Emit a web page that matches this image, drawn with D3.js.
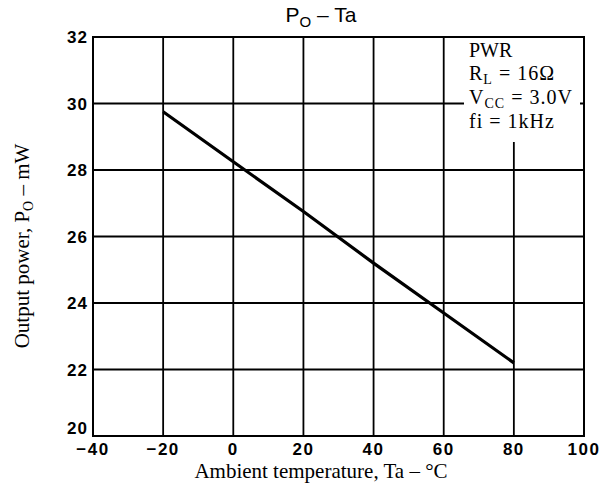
<!DOCTYPE html>
<html>
<head>
<meta charset="utf-8">
<script src="https://cdn.jsdelivr.net/npm/d3@7"></script>
<style>
  html, body { margin: 0; padding: 0; background: #fff; }
  svg { display: block; }
</style>
</head>
<body>
<svg id="chart" width="606" height="488"></svg>
<script>
// ---- data ----
const temperature = [-20, 0, 20, 40, 60, 80];          // Ta (°C)
const outputPower = [29.75, 28.25, 26.75, 25.2, 23.7, 22.2]; // Po (mW)
const xTicks = [-40, -20, 0, 20, 40, 60, 80, 100];
const yTicks = [20, 22, 24, 26, 28, 30, 32];
const legendLines = [
  [{t: "PWR"}],
  [{t: "R"}, {t: "L", sub: true}, {t: " = 16Ω"}],
  [{t: "V"}, {t: "CC", sub: true}, {t: " = 3.0V"}],
  [{t: "fi = 1kHz"}]
];

// ---- layout ----
const svg = d3.select("#chart");
const pLeft = 93, pRight = 584, pTop = 37, pBottom = 436;
const x = d3.scaleLinear().domain([-40, 100]).range([pLeft, pRight]);
const y = d3.scaleLinear().domain([20, 32]).range([pBottom, pTop]);
const serif = "'Liberation Serif', 'Times New Roman', serif";
const sans = "'Liberation Sans', Arial, sans-serif";

// grid lines
const g = svg.append("g");
g.selectAll("line.v").data(xTicks.slice(1, -1)).join("line")
  .attr("x1", d => x(d)).attr("x2", d => x(d))
  .attr("y1", pTop).attr("y2", pBottom)
  .attr("stroke", "#000").attr("stroke-width", 1.8);
g.selectAll("line.h").data(yTicks.slice(1, -1)).join("line")
  .attr("x1", pLeft).attr("x2", pRight)
  .attr("y1", d => y(d)).attr("y2", d => y(d))
  .attr("stroke", "#000").attr("stroke-width", 1.8);

// data line
const line = d3.line().x((d, i) => x(temperature[i])).y(d => y(d));
svg.append("path").datum(outputPower)
  .attr("d", line).attr("fill", "none")
  .attr("stroke", "#000").attr("stroke-width", 3.2);

// legend backdrop
svg.append("rect").attr("x", 464).attr("y", pTop + 1)
  .attr("width", 116).attr("height", 104).attr("fill", "#fff");

// frame
svg.append("rect").attr("x", pLeft).attr("y", pTop)
  .attr("width", pRight - pLeft).attr("height", pBottom - pTop)
  .attr("fill", "none").attr("stroke", "#000").attr("stroke-width", 2);

// y tick labels
svg.append("g").selectAll("text").data(yTicks).join("text")
  .attr("x", 88).attr("y", d => y(d) - (d === 20 ? 8 : 0)).attr("dy", "0.36em")
  .attr("text-anchor", "end")
  .attr("font-family", sans).attr("font-weight", "bold")
  .attr("font-size", 17).attr("letter-spacing", 1)
  .text(d => d);

// x tick labels
svg.append("g").selectAll("text").data(xTicks).join("text")
  .attr("x", d => x(d)).attr("y", 455)
  .attr("text-anchor", "middle")
  .attr("font-family", sans).attr("font-weight", "bold")
  .attr("font-size", 17).attr("letter-spacing", 1.5)
  .text(d => d < 0 ? "−" + Math.abs(d) : d);

// title
const title = svg.append("text").attr("x", 321).attr("y", 22)
  .attr("text-anchor", "middle").attr("font-family", sans).attr("font-size", 21);
title.append("tspan").text("P");
title.append("tspan").attr("font-size", 15).attr("dy", 5).text("O");
title.append("tspan").attr("dy", -5).text(" – Ta");

// x axis title
svg.append("text").attr("x", 321).attr("y", 478)
  .attr("text-anchor", "middle").attr("font-family", serif).attr("font-size", 21)
  .text("Ambient temperature, Ta – °C");

// y axis title
const yt = svg.append("text")
  .attr("transform", "translate(29,246) rotate(-90)")
  .attr("text-anchor", "middle").attr("font-family", serif).attr("font-size", 21);
yt.append("tspan").text("Output power, P");
yt.append("tspan").attr("font-size", 14).attr("dy", 4).text("O");
yt.append("tspan").attr("dy", -4).text(" – mW");

// legend
const legBase = [57, 80, 104, 128];
legendLines.forEach((parts, i) => {
  const t = svg.append("text").attr("x", 469).attr("y", legBase[i])
    .attr("font-family", serif).attr("font-size", 20)
    .attr("letter-spacing", i === 0 ? 0 : 1);
  let shift = 0;
  parts.forEach(p => {
    const ts = t.append("tspan").text(p.t);
    if (p.sub) { ts.attr("font-size", 14).attr("dy", 4); shift = 4; }
    else if (shift) { ts.attr("dy", -shift); shift = 0; }
  });
});
</script>
</body>
</html>
